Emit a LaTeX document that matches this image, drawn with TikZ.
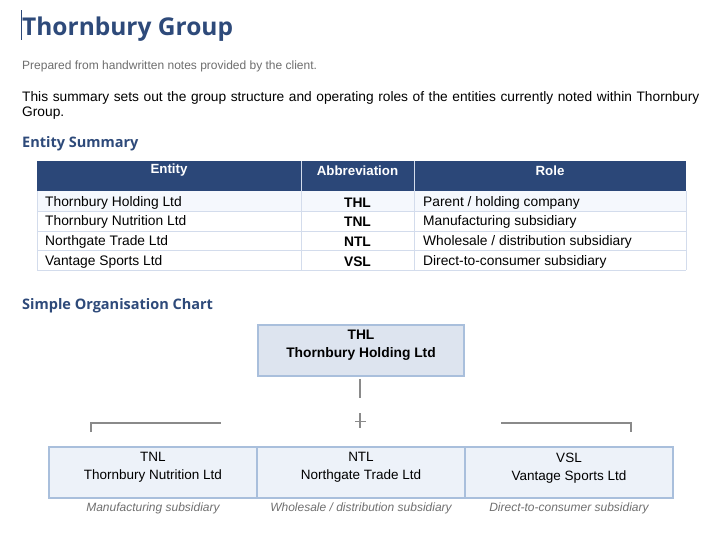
\documentclass[tikz,border=0pt]{standalone}
\usepackage{fontspec}
\setmainfont{Liberation Sans}
\newfontfamily\headfont{Open Sans}
\definecolor{navy}{HTML}{2B4778}
\definecolor{headblue}{HTML}{2E4A7A}
\definecolor{gridc}{HTML}{D3DCEC}
\definecolor{rowtint}{HTML}{F5F8FD}
\definecolor{topfill}{HTML}{DDE4EF}
\definecolor{boxfill}{HTML}{EDF2F9}
\definecolor{boxline}{HTML}{A9BFDC}
\definecolor{linegray}{HTML}{8A8A8A}
\definecolor{subgray}{HTML}{6E6E6E}
\definecolor{capgray}{HTML}{707070}
\begin{document}
\begin{tikzpicture}[x=1pt,y=-1pt,
  bodytext/.style={inner sep=0pt,font=\fontsize{13.8}{15}\selectfont},
  hdr/.style={inner sep=0pt,text=white,font=\fontsize{13.3}{15}\selectfont\bfseries},
  sect/.style={anchor=west,inner sep=0pt,text=headblue,font=\headfont\fontsize{14.5}{16}\selectfont\bfseries},
  conn/.style={draw=linegray,line width=1.2pt},
  topbox/.style={draw=boxline,line width=1.8pt,fill=topfill,minimum width=206pt,minimum height=51pt,inner sep=0pt},
  childbox/.style={draw=boxline,line width=1.8pt,fill=boxfill,minimum width=208pt,minimum height=51pt,inner sep=0pt},
  toptext/.style={anchor=north,inner sep=0pt,align=center,font=\fontsize{13.8}{18}\selectfont\bfseries},
  childtext/.style={anchor=north,inner sep=0pt,align=center,font=\fontsize{13.5}{18}\selectfont},
  capt/.style={inner sep=0pt,text=capgray,font=\fontsize{12}{13}\selectfont\itshape}]
\useasboundingbox (0,0) rectangle (721,536);
\fill[white] (0,0) rectangle (721,536);
% cursor
\draw[navy,line width=1.2pt] (21.5,10) -- (21.5,40) coordinate (cur);
% title
\node[anchor=west,inner sep=0pt,text=headblue,font=\headfont\fontsize{24.5}{28}\selectfont\bfseries] (title) at (22,29.5) {Thornbury Group};
\node[anchor=west,inner sep=0pt,text=subgray,font=\fontsize{12}{13}\selectfont] (prep) at (22,66) {Prepared from handwritten notes provided by the client.};
\node[anchor=north west,inner sep=0pt,text width=682pt,align=left,font=\fontsize{13.75}{15}\selectfont] (intro) at (22,91.5) {This summary sets out the group structure and operating roles of the entities currently noted within Thornbury Group.};
\node[sect] (es) at (22,143.5) {Entity Summary};
% table
\fill[rowtint] (37,191) rectangle (686,211);
\fill[navy] (37,161) rectangle (686,191);
\draw[gridc,line width=0.8pt] (37,211) -- (686,211) (37,231) -- (686,231) (37,250) -- (686,250) (37,270) -- (686,270)
  (37,191) -- (37,270) (686,191) -- (686,270) (301,191) -- (301,270) (414,191) -- (414,270);
\draw[gridc,line width=0.8pt] (301,161) -- (301,191) (414,161) -- (414,191);
\node[hdr] (h1) at (169,170.5) {Entity};
\node[hdr] (h2) at (357.5,170.5) {Abbreviation};
\node[hdr] (h3) at (550,170.5) {Role};
\foreach \y/\e/\a/\r [count=\i] in {202.5/{Thornbury Holding Ltd}/THL/{Parent / holding company},
  222/{Thornbury Nutrition Ltd}/TNL/{Manufacturing subsidiary},
  242/{Northgate Trade Ltd}/NTL/{Wholesale / distribution subsidiary},
  261.5/{Vantage Sports Ltd}/VSL/{Direct-to-consumer subsidiary}}{
  \node[bodytext,anchor=west] (e\i) at (45,\y) {\e};
  \node[bodytext,font=\fontsize{13.8}{15}\selectfont\bfseries] (a\i) at (357.5,\y) {\a};
  \node[bodytext,anchor=west] (r\i) at (423,\y) {\r};
}
\node[sect] (oc) at (22,306) {Simple Organisation Chart};
% org chart
\node[topbox] (thl) at (361,350.5) {};
\node[toptext] (thlt) at (361,330) {THL\\Thornbury Holding Ltd};
\node[childbox] (tnl) at (153,472.5) {};
\node[childbox] (ntl) at (361,472.5) {};
\node[childbox] (vsl) at (569,472.5) {};
\node[childtext] (tnlt) at (153,452.5) {TNL\\Thornbury Nutrition Ltd};
\node[childtext] (ntlt) at (361,452.5) {NTL\\Northgate Trade Ltd};
\node[childtext] (vslt) at (569,452.5) {VSL\\Vantage Sports Ltd};
\coordinate (v1) at (360,398);
\draw[conn] (thl.south -| v1) ++(0,2) -- (v1);
\coordinate (xt) at (360,413);
\coordinate (xb) at (360,428);
\draw[conn] (xt) -- (xb);
\draw[conn] (355,421.5) -- (366,421.5);
\coordinate (lb) at (91,432);
\coordinate (lr) at (221,423);
\draw[conn] (lb) |- (lr);
\coordinate (rb) at (631,432);
\coordinate (rl) at (501,423);
\draw[conn] (rl) -| (rb);
\node[capt] (c1) at (153,508) {Manufacturing subsidiary};
\node[capt] (c2) at (361,508) {Wholesale / distribution subsidiary};
\node[capt] (c3) at (569,508) {Direct-to-consumer subsidiary};
\end{tikzpicture}
\end{document}
